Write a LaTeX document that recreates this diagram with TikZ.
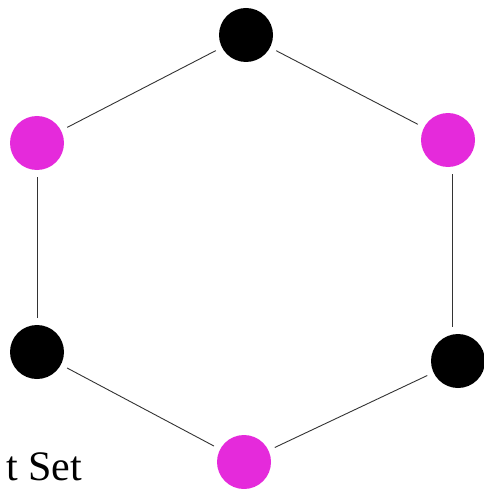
\documentclass[tikz,border=0pt]{standalone}
\usepackage{fontspec}
\setmainfont{Liberation Serif}
\usetikzlibrary{positioning}
\definecolor{cmag}{HTML}{E52ADB}
\definecolor{cedge}{HTML}{333333}
\tikzset{
  vtx/.style={circle, fill=#1, draw=none, minimum size=54pt, inner sep=0pt, outer sep=7pt},
  vtx/.default=black,
  edge/.style={draw=cedge, line width=0.9pt},
  label/.style={font=\fontsize{42}{48}\selectfont, inner sep=0pt, anchor=base west},
}
\begin{document}
\begin{tikzpicture}[x=1pt, y=-1pt]
  \useasboundingbox (0,0) rectangle (483,489);
  \node[vtx] (top) at (246,35) {};
  \node[vtx=cmag] (ul) at (37,143) {};
  \node[vtx=cmag] (ur) at (448,140) {};
  \node[vtx] (ll) at (37,352) {};
  \node[vtx] (lr) at (458,361) {};
  \node[vtx=cmag] (bot) at (244,462) {};
  % hexagon
  \draw[edge] (top) -- (ur); \draw[edge] ([xshift=4pt]ur.south) -- ([xshift=-6pt]lr.north); \draw[edge] (lr) -- (bot);
  \draw[edge] (bot) -- (ll); \draw[edge] (ll) -- (ul); \draw[edge] (ul) -- (top);
  \node[label] (name) at (6,480) {t Set};
\end{tikzpicture}
\end{document}
